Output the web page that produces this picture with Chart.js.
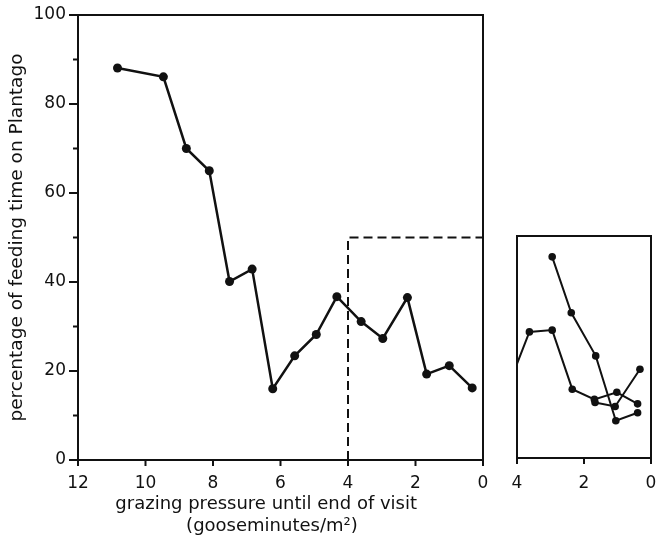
<!DOCTYPE html>
<html><head><meta charset="utf-8">
<script src="https://cdn.jsdelivr.net/npm/chart.js@4.4.1/dist/chart.umd.min.js"></script>
<style>
html,body{margin:0;padding:0;background:#fff;}
#wrap{position:relative;width:657px;height:537px;}
canvas{position:absolute;left:0;top:0;}
</style></head><body>
<div id="wrap"><canvas id="main" width="657" height="537"></canvas><canvas id="inset" width="657" height="537"></canvas></div>
<script>
// ---- data ----
const mainX = [10.83, 9.47, 8.79, 8.11, 7.51, 6.84, 6.23, 5.58, 4.94, 4.33, 3.61, 2.97, 2.24, 1.67, 1.00, 0.32];
const mainY = [88.1, 86.1, 70.0, 65.0, 40.1, 42.9, 16.0, 23.4, 28.2, 36.7, 31.1, 27.3, 36.5, 19.3, 21.2, 16.2];
const boxX = [4, 4, 0];
const boxY = [0, 50, 50];
const insetAX = [4.0, 3.63, 2.95, 2.35, 1.69, 1.02, 0.40];
const insetAY = [21.2, 28.4, 28.8, 15.5, 13.2, 14.8, 12.2];
const insetBX = [2.95, 2.38, 1.65, 1.05, 0.40];
const insetBY = [45.3, 32.7, 23.0, 8.4, 10.2];
const insetCX = [1.67, 1.07, 0.33];
const insetCY = [12.5, 11.6, 20.0];
const mainXTicks = [12, 10, 8, 6, 4, 2, 0];
const mainYTickLabels = [0, 20, 40, 60, 80, 100];
const insetXTicks = [4, 2, 0];
const yTitle = "percentage of feeding time on Plantago";
const xTitle = ["grazing pressure until end of visit", "(gooseminutes/m²)"];

const pts = (xs, ys) => xs.map((x, i) => ({x, y: ys[i]}));
const INK = '#111';
const FONT = 'DejaVu Sans, Liberation Sans, sans-serif';

const frameTicks = {
  id: 'frameTicks',
  afterDraw(chart, args, o) {
    const {ctx, chartArea: a, scales} = chart;
    ctx.save();
    ctx.strokeStyle = INK;
    ctx.lineWidth = 2;
    ctx.strokeRect(a.left, a.top, a.right - a.left, a.bottom - a.top);
    const xs = scales.x;
    xs.ticks.forEach(t => {
      const px = xs.getPixelForValue(t.value);
      ctx.beginPath(); ctx.moveTo(px, a.bottom); ctx.lineTo(px, a.bottom + 6); ctx.stroke();
    });
    if (o.yTicks && scales.y) {
      const ys = scales.y;
      ys.ticks.forEach(t => {
        const py = ys.getPixelForValue(t.value);
        const len = (t.value % 20 === 0) ? 9 : 5;
        ctx.beginPath(); ctx.moveTo(a.left, py); ctx.lineTo(a.left - len, py); ctx.stroke();
      });
    }
    ctx.restore();
  }
};

const lineDs = (data, extra) => Object.assign({
  data, borderColor: INK, backgroundColor: INK, borderWidth: 2.5,
  pointRadius: 4.5, pointHoverRadius: 4.5, pointBorderWidth: 0, tension: 0
}, extra || {});

const noPadX = s => { s.paddingLeft = 0; s.paddingRight = 0; };
const noPadY = s => { s.paddingTop = 0; s.paddingBottom = 0; };

new Chart(document.getElementById('main'), {
  type: 'line',
  data: {
    datasets: [
      lineDs(pts(mainX, mainY)),
      lineDs(pts(boxX, boxY), {borderWidth: 2, borderDash: [9, 5], pointRadius: 0})
    ]
  },
  options: {
    responsive: false, animation: false, devicePixelRatio: 1,
    layout: {padding: {left: 4, top: 15, right: 174, bottom: 0}},
    plugins: {legend: {display: false}, tooltip: {enabled: false}, frameTicks: {yTicks: true}},
    scales: {
      x: {
        type: 'linear', min: 0, max: 12, reverse: true,
        afterBuildTicks: s => { s.ticks = mainXTicks.map(v => ({value: v})); },
        ticks: {color: INK, font: {size: 17, family: FONT}, padding: 13, maxRotation: 0, autoSkip: false},
        grid: {display: true, drawOnChartArea: false, drawTicks: false},
        border: {display: true, color: INK, width: 2},
        title: {display: true, text: [xTitle[0] + '\u00A0\u00A0\u00A0\u00A0\u00A0', xTitle[1] + '\u00A0\u00A0\u00A0'], color: INK,
                font: {size: 18, family: FONT, lineHeight: 1.2}, padding: {top: 0, bottom: 0}},
        afterFit: s => { s.height = 77; noPadX(s); }
      },
      y: {
        type: 'linear', min: 0, max: 100,
        ticks: {stepSize: 10, color: INK, font: {size: 17, family: FONT}, padding: 12,
                callback: v => mainYTickLabels.includes(v) ? String(v) : ''},
        grid: {display: true, drawOnChartArea: false, drawTicks: false},
        border: {display: true, color: INK, width: 2},
        title: {display: true, text: yTitle, color: INK,
                font: {size: 18.5, family: FONT, lineHeight: 1.2}, padding: {top: 2, bottom: 0}},
        afterFit: s => { s.width = 74; noPadY(s); }
      }
    }
  },
  plugins: [frameTicks]
});

new Chart(document.getElementById('inset'), {
  type: 'line',
  data: {
    datasets: [
      lineDs(pts(insetAX, insetAY), {borderWidth: 2, pointRadius: insetAX.map((v, i) => i === 0 ? 0 : 3.8)}),
      lineDs(pts(insetBX, insetBY), {borderWidth: 2, pointRadius: 3.8}),
      lineDs(pts(insetCX, insetCY), {borderWidth: 2, pointRadius: 3.8})
    ]
  },
  options: {
    responsive: false, animation: false, devicePixelRatio: 1,
    layout: {padding: {left: 517, top: 236, right: 6, bottom: 0}},
    plugins: {legend: {display: false}, tooltip: {enabled: false}, frameTicks: {yTicks: false}},
    scales: {
      x: {
        type: 'linear', min: 0, max: 4, reverse: true,
        afterBuildTicks: s => { s.ticks = insetXTicks.map(v => ({value: v})); },
        ticks: {color: INK, font: {size: 17, family: FONT}, padding: 15, maxRotation: 0, autoSkip: false},
        grid: {display: true, drawOnChartArea: false, drawTicks: false},
        border: {display: true, color: INK, width: 2},
        afterFit: s => { s.height = 79; noPadX(s); }
      },
      y: {type: 'linear', min: 0, max: 50, display: false}
    }
  },
  plugins: [frameTicks]
});
</script>
</body></html>
